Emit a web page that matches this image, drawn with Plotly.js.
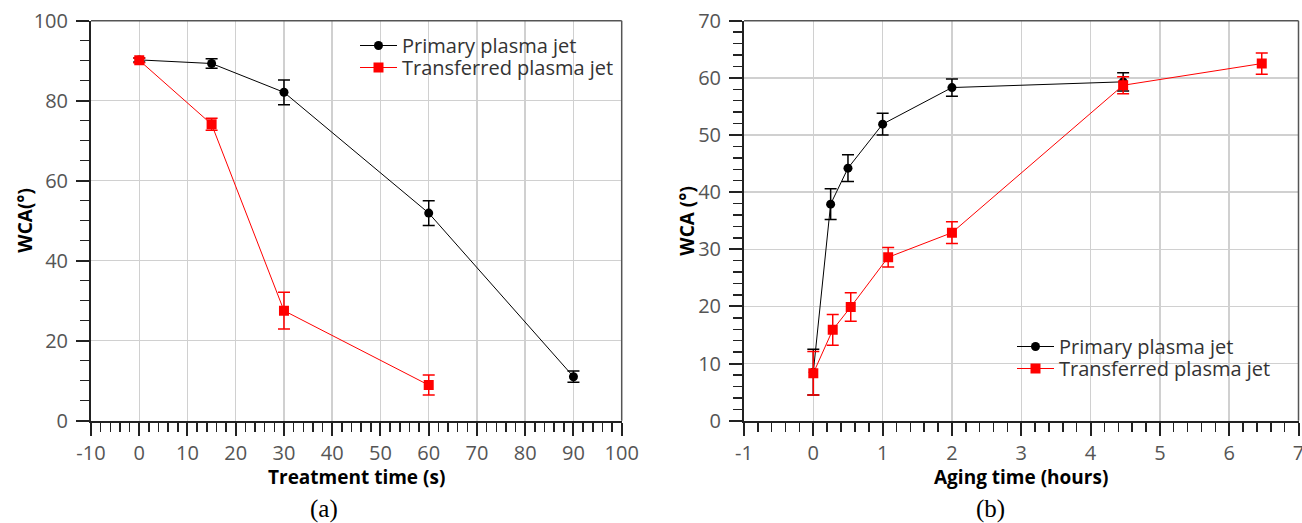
<!DOCTYPE html>
<html>
<head>
<meta charset="utf-8">
<script src="https://cdn.plot.ly/plotly-3.0.1.min.js"></script>
<style>html,body{margin:0;padding:0;background:#fff;}#chart{width:1302px;height:523px;}</style>
</head>
<body>
<div id="chart"></div>
<script>
// ----- Panel (a): WCA vs treatment time -----
const treatTimePrimary = [0, 15, 30, 60, 90];
const wcaPrimaryA = [90.2, 89.3, 82.1, 51.9, 11.0];
const errPrimaryA = [0.5, 1.2, 3.1, 3.1, 1.4];
const treatTimeTransferred = [0, 15, 30, 60];
const wcaTransferredA = [90.1, 74.1, 27.5, 8.9];
const errTransferredA = [0.6, 1.5, 4.6, 2.5];

// ----- Panel (b): WCA vs aging time -----
const agingTimePrimary = [0, 0.25, 0.5, 1, 2, 4.47];
const wcaPrimaryB = [8.5, 37.9, 44.2, 51.9, 58.3, 59.3];
const errPrimaryB = [4.0, 2.7, 2.35, 1.9, 1.5, 1.6];
const agingTimeTransferred = [0, 0.28, 0.54, 1.08, 2, 4.47, 6.47];
const wcaTransferredB = [8.3, 15.9, 19.9, 28.6, 32.9, 58.7, 62.5];
const errTransferredB = [3.8, 2.7, 2.5, 1.7, 1.9, 1.5, 1.85];

// ----- tick labels -----
const xTicksA = [-10, 0, 10, 20, 30, 40, 50, 60, 70, 80, 90, 100];
const xTickLabelsA = ['-10', '0', '10', '20', '30', '40', '50', '60', '70', '80', '90', '100'];
const xTicksB = [-1, 0, 1, 2, 3, 4, 5, 6, 7];
const xTickLabelsB = ['-1', '0', '1', '2', '3', '4', '5', '6', '7'];

const seriesNames = ['Primary plasma jet', 'Transferred plasma jet'];
const axisTitles = ['Treatment time (s)', 'WCA(°)', 'Aging time (hours)', 'WCA (°)'];
const captions = ['(a)', '(b)'];

const BLACK = '#000000', RED = '#ff0000';
const FONT = 'Open Sans, Liberation Sans, Arial, sans-serif';

function mk(x, y, err, name, color, sym, size, xa, ya, leg) {
  return {
    x: x, y: y, name: name, type: 'scatter', mode: 'lines+markers',
    xaxis: xa, yaxis: ya, legend: leg,
    line: {color: color, width: 1},
    marker: {color: color, symbol: sym, size: size},
    error_y: {type: 'data', array: err, visible: true, color: color, thickness: 1.5, width: 6}
  };
}

const data = [
  mk(treatTimePrimary, wcaPrimaryA, errPrimaryA, seriesNames[0], BLACK, 'circle', 9, 'x', 'y', 'legend'),
  mk(treatTimeTransferred, wcaTransferredA, errTransferredA, seriesNames[1], RED, 'square', 10, 'x', 'y', 'legend2'),
  mk(agingTimePrimary, wcaPrimaryB, errPrimaryB, seriesNames[0], BLACK, 'circle', 9, 'x2', 'y2', 'legend3'),
  mk(agingTimeTransferred, wcaTransferredB, errTransferredB, seriesNames[1], RED, 'square', 10, 'x2', 'y2', 'legend4')
];

function axisBase(extra) {
  return Object.assign({
    showline: true, linewidth: 2, linecolor: '#222',
    ticks: 'outside', ticklen: 13, tickwidth: 2, tickcolor: '#222',
    showgrid: true, gridcolor: '#d0d0d0', gridwidth: 1.5,
    zeroline: false, fixedrange: true, ticklabeloverflow: 'allow',
    tickfont: {family: FONT, size: 20, color: '#555'},
    automargin: false
  }, extra);
}
function minorObj(dt) {
  return {dtick: dt, ticks: 'outside', ticklen: 9, tickwidth: 1.5, tickcolor: '#222', showgrid: false};
}

const W = 1302, H = 523;
const yDom = [(H - 420.7) / H, (H - 20.7) / H];
const TITLE_FONT = {family: FONT, size: 19, color: '#000', weight: 'bold'};

function legendAt(px, py) {
  return {x: px / W, y: 1 - py / H, xanchor: 'left', yanchor: 'top', bgcolor: 'rgba(0,0,0,0)', borderwidth: 0,
    itemwidth: 37, font: {family: FONT, size: 20, color: '#333'}, tracegroupgap: 0};
}
function whiteBox(x0, y0, x1, y1) {
  return {type: 'rect', xref: 'paper', yref: 'paper', layer: 'between',
    x0: x0 / W, x1: x1 / W, y0: 1 - y1 / H, y1: 1 - y0 / H,
    fillcolor: '#ffffff', line: {width: 0}};
}
function xTitle(text, xref, py) {
  return {text: text, xref: xref, yref: 'paper', x: 0.5, y: 1 - py / H, showarrow: false,
    xanchor: 'center', yanchor: 'middle', font: TITLE_FONT};
}
function yTitle(text, px, yref) {
  return {text: text, xref: 'paper', yref: yref, x: px / W, y: 0.5, showarrow: false, textangle: -90,
    xanchor: 'center', yanchor: 'middle', font: TITLE_FONT};
}
function caption(text, px) {
  return {text: text, xref: 'paper', yref: 'paper', x: px / W, y: 1 - 509 / H, showarrow: false,
    xanchor: 'center', yanchor: 'middle', font: {family: 'Liberation Serif, Times New Roman, serif', size: 25, color: '#000'}};
}

const layout = {
  width: W, height: H,
  margin: {l: 0, r: 0, t: 0, b: 0},
  paper_bgcolor: '#fff', plot_bgcolor: '#fff',
  showlegend: true,
  xaxis: axisBase({domain: [91 / W, 621.7 / W], range: [-10, 100], tickmode: 'array', tickvals: xTicksA, ticktext: xTickLabelsA, anchor: 'y',
    minor: minorObj(2)}),
  yaxis: axisBase({domain: yDom, range: [0, 100], tick0: 0, dtick: 20, anchor: 'x', ticklabelstandoff: 4,
    minor: minorObj(5)}),
  xaxis2: axisBase({domain: [744 / W, 1298.5 / W], range: [-1, 7], tickmode: 'array', tickvals: xTicksB, ticktext: xTickLabelsB, anchor: 'y2',
    minor: minorObj(0.2)}),
  yaxis2: axisBase({domain: yDom, range: [0, 70], tick0: 0, dtick: 10, anchor: 'x2', ticklabelstandoff: 4,
    minor: minorObj(2)}),
  legend: legendAt(355, 26),
  legend2: legendAt(355, 48),
  legend3: legendAt(1012, 327),
  legend4: legendAt(1012, 349),
  shapes: [
    whiteBox(340, 21.5, 620.5, 85),
    whiteBox(997, 327, 1280, 387),
    {type: 'line', xref: 'x domain', yref: 'y domain', x0: 0, x1: 1, y0: 1, y1: 1, line: {color: '#555', width: 1.5}},
    {type: 'line', xref: 'x domain', yref: 'y domain', x0: 1, x1: 1, y0: 0, y1: 1, line: {color: '#555', width: 1.5}},
    {type: 'line', xref: 'x2 domain', yref: 'y2 domain', x0: 0, x1: 1, y0: 1, y1: 1, line: {color: '#555', width: 1.5}},
    {type: 'line', xref: 'x2 domain', yref: 'y2 domain', x0: 1, x1: 1, y0: 0, y1: 1, line: {color: '#555', width: 1.5}}
  ],
  annotations: [
    xTitle(axisTitles[0], 'x domain', 477),
    yTitle(axisTitles[1], 25, 'y domain'),
    xTitle(axisTitles[2], 'x2 domain', 477),
    yTitle(axisTitles[3], 687, 'y2 domain'),
    caption(captions[0], 324),
    caption(captions[1], 990)
  ]
};

Plotly.newPlot('chart', data, layout, {displayModeBar: false, staticPlot: true});
</script>
</body>
</html>
